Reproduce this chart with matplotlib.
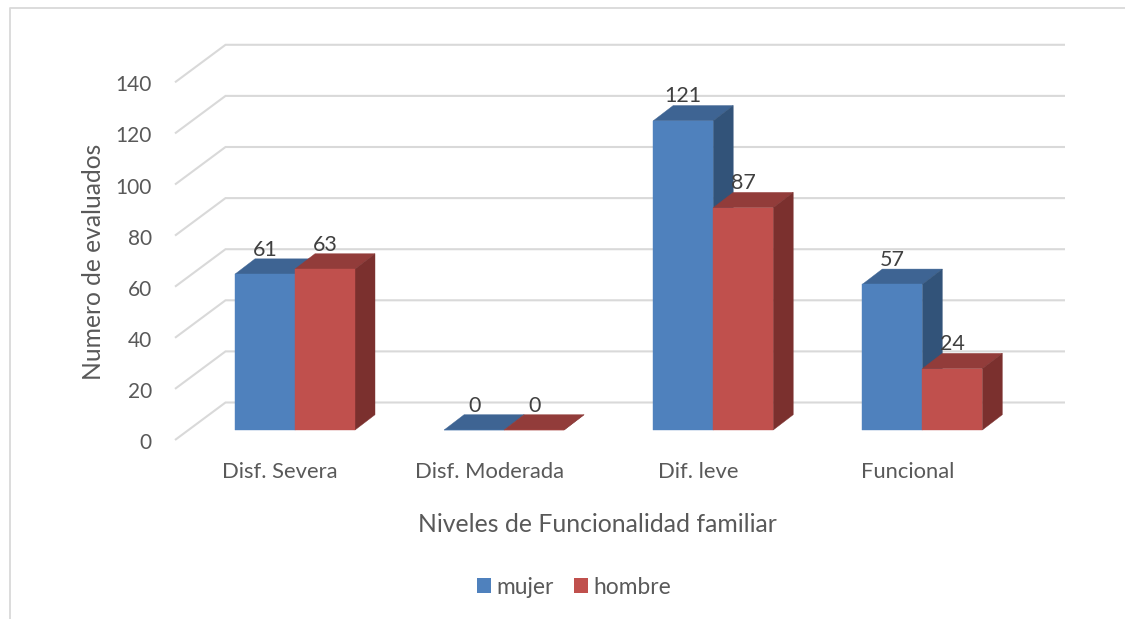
import matplotlib
matplotlib.use("Agg")
import matplotlib.pyplot as plt
from matplotlib.patches import Polygon, Patch, Rectangle

plt.rcParams['font.family'] = ['Lato', 'DejaVu Sans']

categories = ["Disf. Severa", "Disf. Moderada", "Dif. leve", "Funcional"]
mujer = [61, 0, 121, 57]
hombre = [63, 0, 87, 24]
y_ticks = [0, 20, 40, 60, 80, 100, 120, 140]

W, H = 1125, 619
CAT_PX = 209.1          # pixels per category
VAL_PX = 2.555          # pixels per unit
X0_PX, Y0_PX = 295.0, 430.0   # centre of first group, baseline of the bars
BAR_W = 60 / CAT_PX
BAR_DX, BAR_DY = 20 / CAT_PX, 15.3 / VAL_PX        # bar depth in data units
FLOOR_FX, FLOOR_FY = -120 / CAT_PX, -10 / VAL_PX    # front edge of the floor
WALL_X, WALL_Y = -69.5 / CAT_PX, 27.5 / VAL_PX      # back wall offset
RIGHT_X = (1065 - X0_PX) / CAT_PX

GRID = "#d9d9d9"
TICK = "#595959"
LABEL = "#404040"
BLUE = ("#4f81bd", "#3e6493", "#325379")
RED = ("#c0504d", "#923c3a", "#7b302e")

fig = plt.figure(figsize=(W / 100, H / 100), dpi=100)
ax = fig.add_axes([0, 0, 1, 1])
ax.set_xlim((0 - X0_PX) / CAT_PX, (W - X0_PX) / CAT_PX)
ax.set_ylim((Y0_PX - H) / VAL_PX, Y0_PX / VAL_PX)
ax.axis("off")

# Outer chart frame, open on the right and bottom
frame_x = ax.get_xlim()[0] + 10 / CAT_PX
frame_y = ax.get_ylim()[1] - 8.5 / VAL_PX
ax.plot([frame_x, frame_x, ax.get_xlim()[1]],
        [ax.get_ylim()[0], frame_y, frame_y], color=GRID, lw=1.3)

# Gridlines: along the side wall, then across the back wall
for t in y_ticks:
    ax.plot([FLOOR_FX, WALL_X, RIGHT_X],
            [t + FLOOR_FY, t + WALL_Y, t + WALL_Y],
            color=GRID, lw=1.5, solid_joinstyle="miter",
            solid_capstyle="butt", zorder=1)
    ax.text(FLOOR_FX - 23 / CAT_PX, t + FLOOR_FY - 3 / VAL_PX, str(t), ha="right",
            va="center", fontsize=15, color=TICK)


def draw_bar(left, value, colors, z):
    right = left + BAR_W
    ax.add_patch(Polygon([(left, value), (left + BAR_DX, value + BAR_DY),
                          (right + BAR_DX, value + BAR_DY), (right, value)],
                         fc=colors[1], ec=colors[1], lw=0.3, zorder=z))
    ax.add_patch(Polygon([(right, 0), (right + BAR_DX, BAR_DY),
                          (right + BAR_DX, value + BAR_DY), (right, value)],
                         fc=colors[2], ec=colors[2], lw=0.3, zorder=z))
    ax.add_patch(Rectangle((left, 0), BAR_W, value,
                           fc=colors[0], ec=colors[0], lw=0.3, zorder=z))
    ax.text(left + BAR_W / 2, value + 24.5 / VAL_PX, str(value), ha="center",
            va="center", fontsize=15.5, color=LABEL, zorder=10)


for i, name in enumerate(categories):
    draw_bar(i - BAR_W, mujer[i], BLUE, 3)
    draw_bar(i, hombre[i], RED, 4)
    ax.text(i - 15 / CAT_PX, -42 / VAL_PX, name, ha="center", va="center",
            fontsize=15.8, color=TICK)

# Axis titles
ax.text((597.5 - X0_PX) / CAT_PX, -95 / VAL_PX, "Niveles de Funcionalidad familiar",
        ha="center", va="center", fontsize=17.8, color=TICK)
ax.text(-201.5 / CAT_PX, 168.5 / VAL_PX, "Numero de evaluados", rotation=90,
        ha="center", va="center", fontsize=17.7, color=TICK)

ax.legend(handles=[Patch(fc=BLUE[0], label="mujer"), Patch(fc=RED[0], label="hombre")],
          loc="center", bbox_to_anchor=(574 / W, 1 - 587 / H), ncol=2, frameon=False,
          fontsize=16.4, labelcolor=TICK, handlelength=0.61, handleheight=0.61,
          handletextpad=0.26, columnspacing=0.87, borderpad=0)

fig.savefig("out.png", dpi=100)
